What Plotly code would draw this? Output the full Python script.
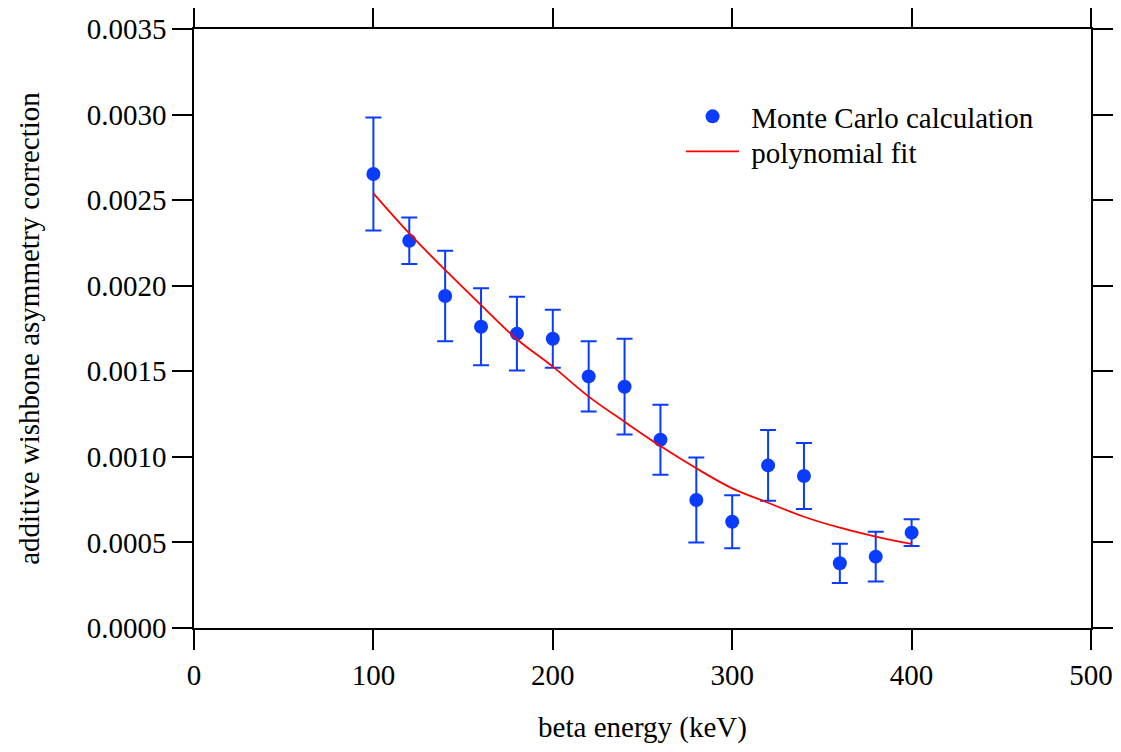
import plotly.graph_objects as go

energy = [100, 120, 140, 160, 180, 200, 220, 240, 260, 280, 300, 320, 340, 360, 380, 400]
correction = [0.002653, 0.002263, 0.00194, 0.00176, 0.00172, 0.00169, 0.00147, 0.00141,
              0.0011, 0.000748, 0.000621, 0.00095, 0.000888, 0.000378, 0.000417, 0.000557]
correction_err = [0.00033, 0.000136, 0.000265, 0.000225, 0.000215, 0.00017, 0.000205, 0.00028,
                  0.000205, 0.000248, 0.000155, 0.000207, 0.000193, 0.000115, 0.000145, 0.000078]

fit_energy = [100, 120, 140, 160, 180, 200, 220, 240, 260, 280, 300, 320, 340, 360, 380, 400]
fit_values = [0.00254, 0.002306, 0.002092, 0.001887, 0.001687, 0.001527, 0.001352, 0.001205,
              0.001063, 0.000933, 0.000816, 0.000732, 0.00065, 0.000586, 0.000534, 0.000491]

x_ticks = [0, 100, 200, 300, 400, 500]
y_ticks = [0.0, 0.0005, 0.0010, 0.0015, 0.0020, 0.0025, 0.0030, 0.0035]

FONT = "Liberation Serif, Times New Roman, serif"
FS = 29
BLUE = "#0a3cff"

fig = go.Figure()
fig.add_trace(go.Scatter(
    x=energy, y=correction, mode="markers", name="\u00a0Monte Carlo calculation",
    marker=dict(color=BLUE, size=14), legend="legend",
    error_y=dict(type="data", array=correction_err, visible=True,
                 color=BLUE, thickness=2, width=8),
))
fig.add_trace(go.Scatter(
    x=fit_energy, y=fit_values, mode="lines", name="\u00a0polynomial fit",
    line=dict(color="#ff0000", width=1.8, shape="spline"), legend="legend2",
))

axis_common = dict(
    showline=True, linecolor="black", linewidth=1.5, mirror="ticks",
    ticks="outside", ticklen=20, tickwidth=1.5, tickcolor="black",
    showgrid=False, zeroline=False, automargin=False,
    tickfont=dict(family=FONT, size=FS, color="black"),
)

legend_common = dict(xanchor="left", yanchor="top", bgcolor="rgba(0,0,0,0)",
                     font=dict(family=FONT, size=FS), itemwidth=53)

fig.update_layout(
    width=1105, height=736,
    margin=dict(l=186, r=22, t=21, b=116),
    paper_bgcolor="white", plot_bgcolor="white",
    font=dict(family=FONT, size=FS, color="black"),
    showlegend=True,
    legend=dict(x=0.543, y=0.8965, **legend_common),
    legend2=dict(x=0.543, y=0.838, **legend_common),
    xaxis=dict(range=[0, 500], tickvals=x_ticks, ticktext=[str(v) for v in x_ticks],
               title=dict(text="beta energy (keV)", standoff=35,
                          font=dict(family=FONT, size=FS)),
               **axis_common),
    yaxis=dict(range=[0, 0.0035], tickvals=y_ticks, ticktext=[f"{v:.4f}" for v in y_ticks],
               title=dict(text="additive wishbone asymmetry correction", standoff=39,
                          font=dict(family=FONT, size=FS)),
               **axis_common),
)

fig.write_html("out.html")
